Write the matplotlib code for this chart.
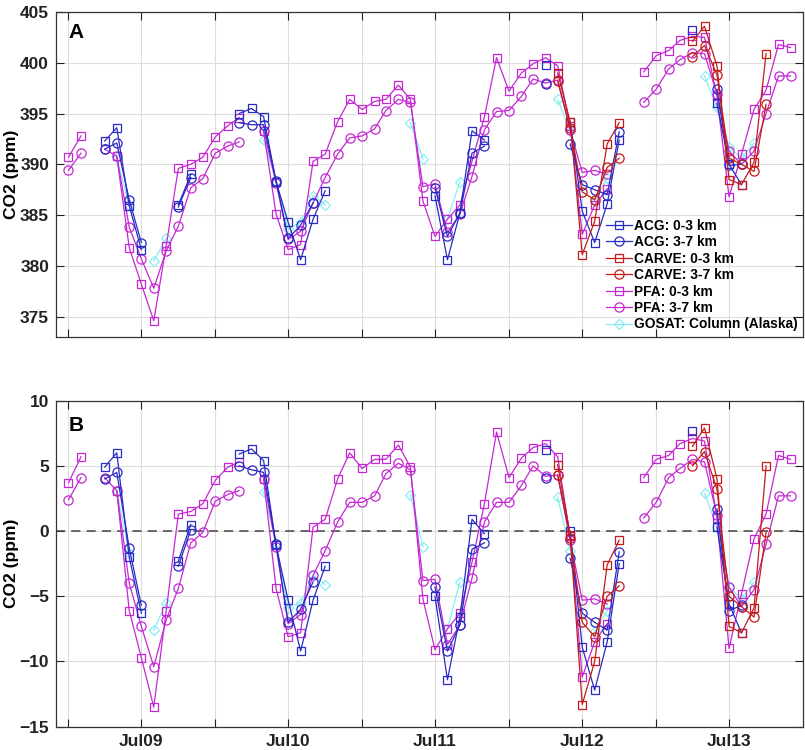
import numpy as np
import pandas as pd
import matplotlib
matplotlib.use("Agg")
import matplotlib.pyplot as plt

plt.rcParams['font.family'] = ['Liberation Sans', 'DejaVu Sans']
plt.rcParams['font.weight'] = 'bold'

n = np.nan

# monthly points, Jan 2009 .. Dec 2013 (one row per year)
months = pd.date_range('2009-01-01', periods=60, freq='MS')

# panel A: CO2 (ppm)
acg_lo_a = [n, n, n, 392.3, 393.6, 385.9, 381.6, n, n, 386.0, 389.0, n,
            n, n, 395.0, 395.5, 394.7, 388.3, 384.3, 380.6, 384.6, 387.4, n, n,
            n, n, n, n, n, n, 386.9, 380.6, 385.2, 393.3, 392.4, n,
            n, n, n, 399.8, n, 394.2, 385.4, 382.3, 386.1, 392.4, n, n,
            n, n, n, 403.2, n, 396.0, 390.0, 388.0, n, n, n, n]
acg_hi_a = [n, n, n, 391.5, 392.1, 386.5, 382.3, n, n, 385.8, 388.7, n,
            n, n, 394.1, 393.9, 393.9, 388.4, 382.7, 384.0, 386.2, n, n, n,
            n, n, n, n, n, n, 387.7, 382.9, 385.2, 391.1, 391.8, n,
            n, n, n, 397.9, n, 392.0, 388.0, 387.5, 387.0, 393.2, n, n,
            n, n, n, n, n, 397.4, 389.9, 390.0, n, n, n, n]
carve_lo_a = [n] * 36 + [
            n, n, n, n, 399.0, 394.2, 381.1, 384.4, 392.0, 394.1, n, n,
            n, n, n, 402.1, 403.6, 399.7, 388.5, 388.0, 390.2, 400.9, n, n]
carve_hi_a = [n] * 36 + [
            n, n, n, n, 398.2, 393.6, 387.3, 386.5, 389.7, 390.6, n, n,
            n, n, n, 400.6, 401.7, 398.8, 390.6, 390.0, 389.3, 395.9, n, n]
pfa_lo_a = [390.7, 392.8, n, n, 390.8, 381.8, 378.2, 374.6, 382.0, 389.6, 390.0, 390.7,
            392.7, 393.8, 394.6, n, 393.3, 385.1, 381.6, 382.1, 390.3, 391.0, 394.2, 396.4,
            395.4, 396.2, 396.4, 397.8, 396.4, 386.4, 382.9, 384.6, 386.0, 390.3, 394.7, 400.5,
            397.2, 399.0, 399.9, 400.5, 399.7, 393.8, 383.1, 386.0, 387.6, n, n, 399.1,
            400.7, 401.2, 402.2, 402.6, 402.5, 396.7, 386.8, 391.0, 395.4, 397.3, 401.8, 401.5]
pfa_hi_a = [389.4, 391.1, n, 391.5, 390.8, 383.8, 380.7, 377.8, 381.5, 383.9, 387.7, 388.6,
            391.1, 391.8, 392.2, n, 393.3, 388.2, 382.6, 383.4, 386.2, 388.7, 391.0, 392.6,
            392.8, 393.5, 395.3, 396.4, 396.1, 387.8, 388.1, 383.3, 385.1, 388.8, 393.4, 395.2,
            395.3, 396.7, 398.4, 398.0, 398.3, 393.4, 389.2, 389.4, 389.0, n, n, 396.1,
            397.4, 399.4, 400.3, 401.0, 400.9, 396.9, 391.3, 390.0, 391.3, 395.0, 398.7, 398.7]
gosat_a = [n, n, n, n, 390.6, 386.0, n, 380.5, 382.7, n, n, n,
           n, n, n, n, 392.4, 388.3, 383.6, 384.3, 386.9, 386.0, n, n,
           n, n, n, n, 394.1, 390.5, n, 384.6, 388.3, n, n, n,
           n, n, n, n, 396.4, 393.3, n, 386.4, 388.7, n, n, n,
           n, n, n, n, 398.7, 395.6, 391.7, 390.6, 392.1, n, n, n]

# panel B: detrended CO2 (ppm)
acg_lo_b = [n, n, n, 4.9, 6.0, -2.0, -6.3, n, n, -2.3, 0.5, n,
            n, n, 5.9, 6.3, 5.4, -1.1, -5.3, -9.2, -5.3, -2.7, n, n,
            n, n, n, n, n, n, -5.0, -11.4, -6.6, 0.9, -0.2, n,
            n, n, n, 6.2, n, 0.0, -8.9, -12.2, -8.5, -2.5, n, n,
            n, n, n, 7.7, n, 0.3, -5.6, -7.8, n, n, n, n]
acg_hi_b = [n, n, n, 4.0, 4.5, -1.3, -5.7, n, n, -2.7, 0.1, n,
            n, n, 5.0, 4.7, 4.5, -1.0, -7.0, -6.0, -3.9, n, n, n,
            n, n, n, n, n, n, -4.3, -9.2, -7.2, -1.4, -0.9, n,
            n, n, n, 4.1, n, -2.1, -6.3, -7.0, -7.6, -1.6, n, n,
            n, n, n, n, n, 1.7, -6.1, -5.7, n, n, n, n]
carve_lo_b = [n] * 36 + [
            n, n, n, n, 5.1, -0.3, -13.3, -10.0, -2.6, -0.7, n, n,
            n, n, n, 6.5, 7.9, 4.0, -7.3, -7.8, -5.9, 5.0, n, n]
carve_hi_b = [n] * 36 + [
            n, n, n, n, 4.3, -0.5, -7.0, -8.1, -5.0, -4.2, n, n,
            n, n, n, 5.0, 6.1, 3.2, -5.0, -5.8, -6.6, -0.1, n, n]
pfa_lo_b = [3.7, 5.7, n, n, 3.1, -6.1, -9.7, -13.5, -6.1, 1.3, 1.5, 2.1,
            3.9, 4.9, 5.3, n, 4.0, -4.4, -8.1, -7.8, 0.3, 0.9, 4.0, 6.0,
            4.8, 5.5, 5.5, 6.6, 4.9, -5.2, -9.1, -7.5, -6.3, -2.4, 2.1, 7.6,
            4.1, 5.6, 6.4, 6.7, 5.7, -0.4, -11.2, -8.5, -7.1, n, n, 4.1,
            5.5, 5.8, 6.7, 7.1, 6.9, 1.0, -9.0, -4.8, -0.6, 1.3, 5.8, 5.5]
pfa_hi_b = [2.4, 4.1, n, 4.1, 3.1, -4.0, -7.3, -10.4, -6.8, -4.4, -0.9, -0.1,
            2.3, 2.8, 3.1, n, 4.0, -1.2, -7.1, -6.4, -3.4, -1.5, 0.7, 2.2,
            2.2, 2.7, 4.4, 5.2, 4.7, -3.8, -3.7, -8.7, -7.2, -3.6, 0.7, 2.2,
            2.2, 3.5, 5.0, 4.2, 4.3, -0.7, -5.3, -5.2, -5.6, n, n, 1.0,
            2.2, 4.1, 4.8, 5.5, 5.3, 1.2, -4.3, -5.8, -4.5, -1.0, 2.7, 2.7]
gosat_b = [n, n, n, n, 3.1, -1.7, n, -7.6, -5.5, n, n, n,
           n, n, n, n, 3.0, -0.9, -5.9, -5.5, -3.4, -4.1, n, n,
           n, n, n, n, 2.8, -1.2, n, -7.5, -3.9, n, n, n,
           n, n, n, n, 2.6, -1.5, n, -7.7, -6.1, n, n, n,
           n, n, n, n, 2.9, 0.3, -4.3, -5.2, -3.9, n, n, n]

labels = ['ACG: 0-3 km', 'ACG: 3-7 km', 'CARVE: 0-3 km', 'CARVE: 3-7 km',
          'PFA: 0-3 km', 'PFA: 3-7 km', 'GOSAT: Column (Alaska)']

blue = '#2a2ac4'
red = '#c41a1a'
mag = '#c428d2'
cyan = '#88ecf2'

series = [
    ('GOSAT: Column (Alaska)', gosat_a, gosat_b, cyan, 'D', 5.0),
    ('PFA: 0-3 km', pfa_lo_a, pfa_lo_b, mag, 's', 5.2),
    ('PFA: 3-7 km', pfa_hi_a, pfa_hi_b, mag, 'o', 6.6),
    ('ACG: 0-3 km', acg_lo_a, acg_lo_b, blue, 's', 5.2),
    ('ACG: 3-7 km', acg_hi_a, acg_hi_b, blue, 'o', 6.6),
    ('CARVE: 0-3 km', carve_lo_a, carve_lo_b, red, 's', 5.2),
    ('CARVE: 3-7 km', carve_hi_a, carve_hi_b, red, 'o', 6.6),
]

fig = plt.figure(figsize=(8.05, 7.5), dpi=100)
axA = fig.add_axes([0.0696, 0.5507, 0.928, 0.4333])
axB = fig.add_axes([0.0696, 0.0311, 0.928, 0.4347])

ticks = pd.date_range('2009-01-01', '2013-07-01', freq='6MS')
ticklabels = [d.strftime('%b%y') if d.month == 7 else '' for d in ticks]

handles = {}
for name, va, vb, col, mk, ms in series:
    h, = axA.plot(months, va, '-', marker=mk, color=col, mfc='none', mec=col,
                  ms=ms, lw=0.9, mew=0.9)
    axB.plot(months, vb, '-', marker=mk, color=col, mfc='none', mec=col,
             ms=ms, lw=0.9, mew=0.9)
    handles[name] = h

axB.axhline(0, color='#444444', ls=(0, (6, 4)), lw=1.1, zorder=1)

for ax in (axA, axB):
    ax.set_xlim(pd.Timestamp('2008-12-01'), pd.Timestamp('2014-01-01'))
    ax.set_xticks(ticks)
    ax.set_xticklabels(ticklabels)
    ax.grid(True, color='#dddddd', lw=0.8)
    ax.set_axisbelow(True)
    ax.tick_params(direction='in', length=6, width=0.8, top=True, right=True,
                   labelsize=12.5, colors='#222222', pad=5)
    for s in ax.spines.values():
        s.set_color('#333333')
        s.set_linewidth(0.9)
    ax.set_ylabel('CO2 (ppm)', fontsize=12.5, fontweight='bold')
    ax.yaxis.set_label_coords(-0.05, 0.5)

axA.set_ylim(373, 405)
axA.set_yticks(range(375, 406, 5))
axA.tick_params(labelbottom=False)
axB.set_ylim(-15, 10)
axB.set_yticks(range(-15, 11, 5))

axA.text(0.017, 0.937, 'A', transform=axA.transAxes, fontsize=15,
         fontweight='bold', va='center')
axB.text(0.017, 0.923, 'B', transform=axB.transAxes, fontsize=15,
         fontweight='bold', va='center')

axA.legend([handles[l] for l in labels], labels, loc='lower right',
           frameon=False, prop={'size': 9.9, 'weight': 'bold'},
           handlelength=1.9, handletextpad=0.15, labelspacing=0.18,
           borderaxespad=0.0)

fig.savefig('out.png', dpi=100)
